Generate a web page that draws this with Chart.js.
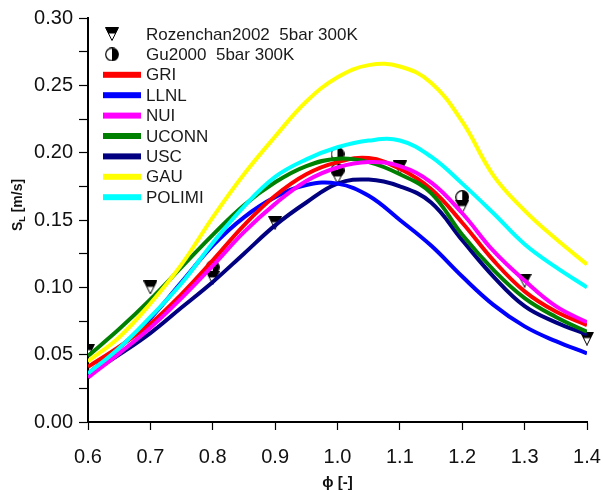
<!DOCTYPE html>
<html>
<head>
<meta charset="utf-8">
<script src="https://cdn.jsdelivr.net/npm/chart.js@4.4.0/dist/chart.umd.min.js"></script>
<style>
  html, body { margin: 0; padding: 0; background: #fff; }
</style>
</head>
<body>
<canvas id="chart" width="603" height="490"></canvas>
<script>
// equivalence ratio grid used for the model curves
const phi = [0.6, 0.65, 0.7, 0.75, 0.8, 0.85, 0.9, 0.95, 1.0, 1.05, 1.1, 1.15, 1.2, 1.25, 1.3, 1.35, 1.4];

const gri    = [0.041, 0.056, 0.073, 0.095, 0.120, 0.146, 0.168, 0.184, 0.193, 0.196, 0.188, 0.173, 0.148, 0.120, 0.097, 0.082, 0.072];
const llnl   = [0.036, 0.055, 0.077, 0.104, 0.131, 0.152, 0.167, 0.176, 0.177, 0.168, 0.150, 0.131, 0.108, 0.087, 0.071, 0.060, 0.051];
const nui    = [0.033, 0.051, 0.070, 0.092, 0.116, 0.141, 0.162, 0.179, 0.189, 0.193, 0.190, 0.178, 0.155, 0.127, 0.105, 0.086, 0.074];
const uconn  = [0.049, 0.069, 0.091, 0.115, 0.139, 0.161, 0.178, 0.190, 0.1955, 0.193, 0.184, 0.170, 0.139, 0.113, 0.092, 0.078, 0.067];
const usc    = [0.035, 0.050, 0.066, 0.085, 0.104, 0.125, 0.146, 0.163, 0.177, 0.180, 0.175, 0.163, 0.135, 0.108, 0.086, 0.074, 0.065];
const gau    = [0.045, 0.063, 0.088, 0.117, 0.152, 0.184, 0.212, 0.238, 0.256, 0.265, 0.264, 0.252, 0.223, 0.183, 0.157, 0.136, 0.117];
const polimi = [0.036, 0.055, 0.078, 0.103, 0.133, 0.160, 0.182, 0.195, 0.204, 0.209, 0.209, 0.197, 0.177, 0.155, 0.132, 0.115, 0.100];

// measurements
const rozPhi = [0.6, 0.7, 0.8, 0.9, 1.0, 1.1, 1.2, 1.3, 1.4];
const rozSL  = [0.053, 0.100, 0.107, 0.148, 0.182, 0.189, 0.160, 0.105, 0.062];
const guPhi  = [0.8, 1.0, 1.0, 1.2];
const guSL   = [0.115, 0.199, 0.187, 0.167];

const xTickLabels = ['0.6', '0.7', '0.8', '0.9', '1.0', '1.1', '1.2', '1.3', '1.4'];
const yTickLabels = ['0.00', '0.05', '0.10', '0.15', '0.20', '0.25', '0.30'];

const FONT = "Arial, 'Liberation Sans', sans-serif";

function pts(xs, ys) {
  return xs.map((x, i) => ({ x: x, y: ys[i] }));
}

// marker images
function triangleMarker() {
  const c = document.createElement('canvas');
  c.width = 14; c.height = 14;
  const g = c.getContext('2d');
  g.beginPath();
  g.moveTo(0.5, 0.5); g.lineTo(13.5, 0.5); g.lineTo(7, 13.5); g.closePath();
  g.fillStyle = '#fff'; g.fill();
  g.beginPath();
  g.moveTo(0.5, 0.5); g.lineTo(13.5, 0.5); g.lineTo(10.5, 6.5); g.lineTo(3.5, 6.5); g.closePath();
  g.fillStyle = '#000'; g.fill();
  g.beginPath();
  g.moveTo(0.5, 0.5); g.lineTo(13.5, 0.5); g.lineTo(7, 13.5); g.closePath();
  g.strokeStyle = '#000'; g.lineWidth = 1; g.stroke();
  return c;
}
function halfCircleMarker() {
  const c = document.createElement('canvas');
  c.width = 14; c.height = 14;
  const g = c.getContext('2d');
  g.beginPath(); g.arc(7, 7, 6.3, 0, Math.PI * 2);
  g.fillStyle = '#fff'; g.fill();
  g.beginPath(); g.arc(7, 7, 6.3, -Math.PI / 2, Math.PI / 2); g.closePath();
  g.fillStyle = '#000'; g.fill();
  g.beginPath(); g.arc(7, 7, 6.3, 0, Math.PI * 2);
  g.strokeStyle = '#000'; g.lineWidth = 1.2; g.stroke();
  return c;
}
const triImg = triangleMarker();
const circImg = halfCircleMarker();

function curve(label, values, color, order) {
  return {
    label: label,
    data: pts(phi, values),
    borderColor: color,
    backgroundColor: color,
    borderWidth: 4,
    pointRadius: 0,
    tension: 0.4,
    fill: false,
    order: order
  };
}

const datasets = [
  {
    label: 'Rozenchan2002  5bar 300K',
    data: pts(rozPhi, rozSL),
    showLine: false,
    pointStyle: triImg,
    pointRadius: 7,
    order: 20,
    clip: { left: 0, top: false, right: false, bottom: false }
  },
  {
    label: 'Gu2000  5bar 300K',
    data: pts(guPhi, guSL),
    showLine: false,
    pointStyle: circImg,
    pointRadius: 7,
    order: 21
  },
  curve('GRI', gri, '#ff0000', 5),
  curve('LLNL', llnl, '#0000ff', 6),
  curve('NUI', nui, '#ff00ff', 3),
  curve('UCONN', uconn, '#008000', 4),
  curve('USC', usc, '#000080', 7),
  curve('GAU', gau, '#ffff00', 2),
  curve('POLIMI', polimi, '#00ffff', 1)
];

// legend drawn inside the plot, top left
const insideLegend = {
  id: 'insideLegend',
  afterDraw(chart) {
    const ctx = chart.ctx;
    ctx.save();
    ctx.font = '17px ' + FONT;
    ctx.textBaseline = 'middle';
    let y = 34;
    chart.data.datasets.forEach(ds => {
      if (ds.showLine === false) {
        const img = ds.pointStyle;
        ctx.drawImage(img, 112 - img.width / 2, y - img.height / 2);
      } else {
        ctx.fillStyle = ds.borderColor;
        ctx.fillRect(103, y - 3, 38, 6);
      }
      ctx.fillStyle = '#1a1a1a';
      ctx.fillText(ds.label, 146, y + 1);
      y += 20.4;
    });
    ctx.restore();
  }
};

// rotated y title with subscript
const yTitle = {
  id: 'yTitle',
  afterDraw(chart) {
    const ctx = chart.ctx;
    ctx.save();
    ctx.translate(17, 205);
    ctx.rotate(-Math.PI / 2);
    ctx.fillStyle = '#111';
    ctx.textBaseline = 'alphabetic';
    const big = 'bold 14px ' + FONT, small = 'bold 9px ' + FONT;
    ctx.font = big;
    const wS = ctx.measureText('S').width;
    const wRest = ctx.measureText(' [m/s]').width;
    ctx.font = small;
    const wL = ctx.measureText('L').width;
    let x = -(wS + wL + wRest) / 2;
    ctx.font = big;
    ctx.fillText('S', x, 5);
    x += wS;
    ctx.font = small;
    ctx.fillText('L', x, 8);
    x += wL;
    ctx.font = big;
    ctx.fillText(' [m/s]', x, 5);
    ctx.restore();
  }
};

new Chart(document.getElementById('chart'), {
  type: 'line',
  data: { datasets: datasets },
  plugins: [insideLegend, yTitle],
  options: {
    responsive: false,
    animation: false,
    devicePixelRatio: 1,
    layout: { padding: { top: 17, right: 0, left: 0, bottom: 0 } },
    plugins: { legend: { display: false }, tooltip: { enabled: false } },
    scales: {
      x: {
        type: 'linear',
        min: 0.6,
        max: 1.4,
        afterFit(scale) {
          scale.height = 68;
          scale.paddingLeft = 0;
          scale.paddingRight = 16;
        },
        grid: { drawOnChartArea: false, drawTicks: true, tickLength: 8, tickColor: '#000', tickWidth: 1.2 },
        border: { display: true, color: '#000', width: 2 },
        ticks: {
          stepSize: 0.1,
          padding: 15,
          maxRotation: 0,
          color: '#111',
          font: { family: FONT, size: 20 },
          callback: (v) => {
            const s = v.toFixed(1);
            return xTickLabels.includes(s) ? s : '';
          }
        },
        title: {
          display: true,
          text: 'ϕ [-]',
          color: '#111',
          padding: { top: 0, bottom: 0 },
          font: { family: FONT, size: 15, weight: 'bold', lineHeight: 1 }
        }
      },
      y: {
        min: 0,
        max: 0.3,
        afterFit(scale) { scale.width = 88; },
        grid: { drawOnChartArea: false, drawTicks: true, tickLength: 9, tickColor: '#000', tickWidth: 1.2 },
        border: { display: true, color: '#000', width: 2 },
        ticks: {
          stepSize: 0.025,
          padding: 6,
          color: '#111',
          font: { family: FONT, size: 20 },
          callback: (v) => {
            const s = v.toFixed(2);
            return (Math.round(v * 1000) % 50 === 0 && yTickLabels.includes(s)) ? s : '';
          }
        }
      }
    }
  }
});
</script>
</body>
</html>
